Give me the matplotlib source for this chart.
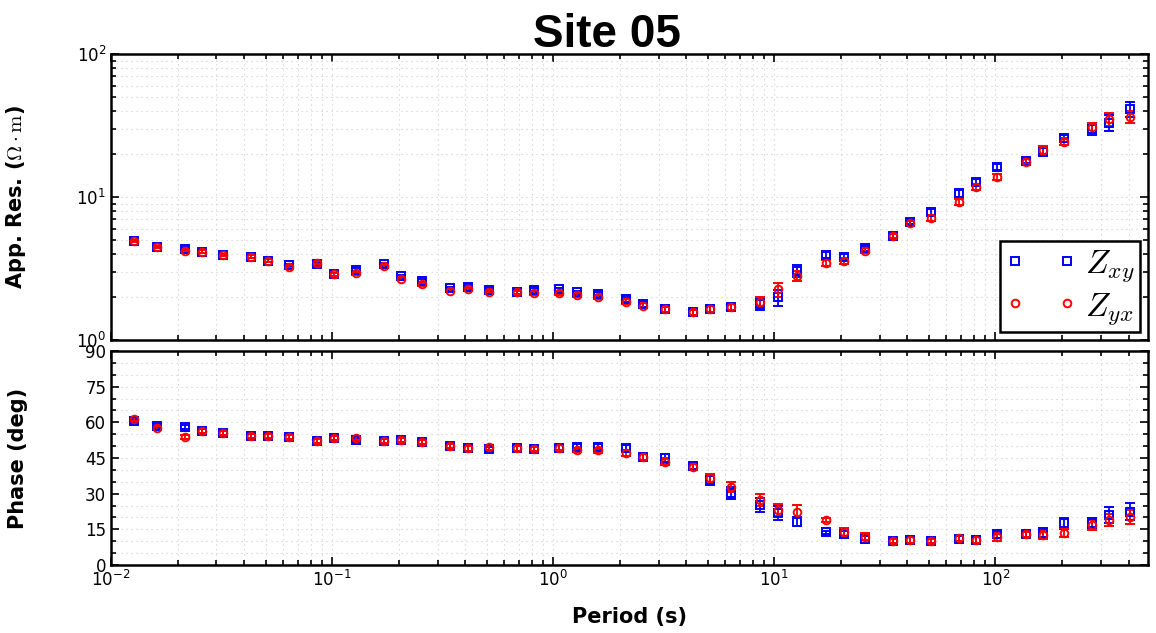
import matplotlib
matplotlib.use("Agg")
import numpy as np
import matplotlib.pyplot as plt
from matplotlib.lines import Line2D
from matplotlib.ticker import LogLocator, MultipleLocator, NullFormatter

plt.rcParams['font.family'] = ['DejaVu Sans']
plt.rcParams['mathtext.fontset'] = 'cm'

# Magnetotelluric sounding, site 05
period = [0.0127, 0.0161, 0.0215, 0.0257, 0.0322, 0.043, 0.0515, 0.064, 0.0855, 0.102,
          0.128, 0.171, 0.205, 0.255, 0.342, 0.411, 0.513, 0.685, 0.823, 1.06,
          1.28, 1.60, 2.14, 2.56, 3.21, 4.29, 5.13, 6.38, 8.58, 10.4,
          12.7, 17.1, 20.6, 25.6, 34.3, 41.2, 51.2, 68.2, 82.0, 102,
          137, 164, 205, 274, 326, 405]

rho_xy = [4.92, 4.47, 4.35, 4.15, 3.93, 3.83, 3.59, 3.35, 3.40, 2.88,
          3.09, 3.38, 2.80, 2.59, 2.30, 2.36, 2.24, 2.16, 2.24, 2.26,
          2.15, 2.10, 1.93, 1.78, 1.64, 1.56, 1.64, 1.71, 1.78, 1.99,
          3.05, 3.93, 3.83, 4.38, 5.36, 6.72, 7.89, 10.6, 12.7, 16.3,
          17.9, 20.7, 25.7, 29.7, 33.1, 41.2]
rho_yx = [4.92, 4.47, 4.19, 4.15, 3.93, 3.83, 3.59, 3.26, 3.47, 2.88,
          2.93, 3.29, 2.68, 2.46, 2.21, 2.26, 2.18, 2.15, 2.12, 2.12,
          2.06, 2.01, 1.85, 1.74, 1.64, 1.56, 1.66, 1.71, 1.85, 2.26,
          2.82, 3.44, 3.59, 4.21, 5.36, 6.55, 7.17, 9.27, 11.8, 13.9,
          17.7, 21.3, 24.4, 30.7, 34.9, 36.4]

# relative errors of apparent resistivity
rho_xy_err = [0.02, 0.02, 0.02, 0.02, 0.02, 0.02, 0.02, 0.02, 0.025, 0.02,
              0.025, 0.025, 0.025, 0.025, 0.025, 0.03, 0.03, 0.03, 0.03, 0.03,
              0.03, 0.03, 0.04, 0.04, 0.045, 0.045, 0.05, 0.05, 0.09, 0.13,
              0.09, 0.05, 0.05, 0.04, 0.03, 0.04, 0.05, 0.05, 0.05, 0.05,
              0.04, 0.06, 0.06, 0.08, 0.13, 0.12]
rho_yx_err = [0.02, 0.02, 0.02, 0.02, 0.02, 0.02, 0.02, 0.02, 0.025, 0.02,
              0.025, 0.025, 0.025, 0.025, 0.025, 0.03, 0.03, 0.03, 0.03, 0.03,
              0.03, 0.03, 0.04, 0.04, 0.045, 0.045, 0.05, 0.05, 0.08, 0.11,
              0.08, 0.05, 0.05, 0.04, 0.03, 0.04, 0.05, 0.05, 0.05, 0.05,
              0.04, 0.06, 0.06, 0.08, 0.10, 0.10]

phase_xy = [60.6, 58.6, 58.2, 56.5, 55.4, 54.3, 54.3, 53.7, 52.1, 53.3,
            52.6, 52.1, 52.6, 51.6, 50.0, 49.1, 48.6, 49.1, 48.8, 49.3,
            49.8, 49.8, 49.3, 45.5, 44.9, 41.8, 35.6, 30.2, 25.2, 21.9,
            18.2, 13.7, 12.9, 10.9, 10.1, 10.4, 10.1, 10.8, 10.5, 12.9,
            12.9, 13.6, 17.5, 17.8, 21.0, 22.4]
phase_yx = [61.4, 57.7, 53.7, 56.5, 55.4, 54.3, 54.3, 53.7, 52.1, 53.3,
            53.5, 52.1, 52.6, 51.6, 50.0, 49.1, 49.5, 49.1, 48.8, 49.3,
            48.4, 48.2, 47.2, 45.5, 43.4, 41.1, 36.4, 32.9, 27.3, 23.1,
            22.4, 18.9, 14.0, 11.9, 10.1, 10.4, 10.1, 11.5, 10.5, 11.9,
            12.9, 12.6, 13.6, 16.8, 18.9, 20.3]

phase_xy_err = [0.8] * 15 + [1.0] * 7 + [1.2, 1.2, 1.8, 1.3, 2.0, 2.5, 2.8, 3.0,
                2.0, 0.8, 1.5, 1.5, 0.8, 1.2, 1.0, 1.3, 1.5, 1.4,
                1.0, 2.0, 2.4, 2.1, 3.3, 3.6]
phase_yx_err = [0.8] * 15 + [1.0] * 7 + [1.2, 1.2, 1.5, 1.3, 1.8, 2.2, 2.5, 2.5,
                2.7, 0.9, 1.7, 1.4, 0.9, 1.3, 1.0, 1.2, 1.3, 1.6,
                1.0, 1.6, 1.9, 2.1, 2.6, 2.9]

T = np.array(period)
BLUE = (0.0, 0.0, 1.0)
RED = (1.0, 0.0, 0.0)

W, H = 1156, 633
fig = plt.figure(figsize=(W / 100, H / 100), dpi=100)


def px_axes(x0, x1, y0, y1):
    return fig.add_axes([x0 / W, 1 - y1 / H, (x1 - x0) / W, (y1 - y0) / H])


ax_rho = px_axes(111, 1148, 54, 340)
ax_phs = px_axes(111, 1148, 351, 565)

eb_kw = dict(ls='none', ms=5.5, mew=1.4, mfc='none', elinewidth=1.3,
             capsize=3.5, capthick=1.3)

for arr, err, col, mk in [(rho_xy, rho_xy_err, BLUE, 's'),
                          (rho_yx, rho_yx_err, RED, 'o')]:
    r = np.array(arr)
    ax_rho.errorbar(T, r, yerr=r * np.array(err), marker=mk, color=col,
                    mec=col, **eb_kw)

for arr, err, col, mk in [(phase_xy, phase_xy_err, BLUE, 's'),
                          (phase_yx, phase_yx_err, RED, 'o')]:
    ax_phs.errorbar(T, arr, yerr=err, marker=mk, color=col, mec=col, **eb_kw)

for ax in (ax_rho, ax_phs):
    ax.set_xscale('log')
    ax.set_xlim(0.01, 490)
    ax.xaxis.set_major_locator(LogLocator(base=10, numticks=10))
    ax.xaxis.set_minor_locator(LogLocator(base=10, subs=np.arange(2, 10), numticks=20))
    ax.xaxis.set_minor_formatter(NullFormatter())
    ax.grid(True, which='both', ls=(0, (1, 3.5)), color='0.8', lw=0.8)
    ax.set_axisbelow(True)
    ax.tick_params(which='both', direction='in', top=True, right=True,
                   labelsize=12, width=1.2, colors='black')
    ax.tick_params(which='major', length=6)
    ax.tick_params(which='minor', length=3.5)
    for s in ax.spines.values():
        s.set_linewidth(1.8)

ax_rho.set_yscale('log')
ax_rho.set_ylim(1, 100)
ax_rho.yaxis.set_minor_locator(LogLocator(base=10, subs=np.arange(2, 10), numticks=20))
ax_rho.yaxis.set_minor_formatter(NullFormatter())
ax_rho.tick_params(axis='x', labelbottom=False)

ax_phs.set_ylim(0, 90)
ax_phs.yaxis.set_major_locator(MultipleLocator(15))
ax_phs.yaxis.set_minor_locator(MultipleLocator(5))

label_kw = dict(fontsize=15, fontweight='bold')
ax_rho.set_ylabel(r'App. Res. ($\Omega\cdot\mathrm{m}$)', **label_kw)
ax_rho.yaxis.set_label_coords(-0.080, 0.5)
ax_phs.set_ylabel('Phase (deg)', **label_kw)
ax_phs.yaxis.set_label_coords(-0.080, 0.5)
ax_phs.set_xlabel('Period (s)', **label_kw)
ax_phs.xaxis.set_label_coords(0.5, -0.195)

handles = [Line2D([], [], ls='none', marker='s', ms=5.5, mew=1.4, mfc='none', mec=BLUE),
           Line2D([], [], ls='none', marker='o', ms=5.5, mew=1.4, mfc='none', mec=RED)]
leg = ax_rho.legend(handles, [r'$Z_{xy}$', r'$Z_{yx}$'], loc='lower right',
                    numpoints=2, fontsize=24, handlelength=2.15, handletextpad=0.25,
                    borderpad=0.15, labelspacing=0.15, borderaxespad=0.25,
                    fancybox=False, framealpha=1, edgecolor='black')
leg.get_frame().set_linewidth(1.8)

fig.text(607 / W, 1 - 47 / H, 'Site 05', ha='center', va='baseline',
         fontsize=33, fontweight='bold', family='Liberation Sans')

fig.savefig('out.png', dpi=100)
